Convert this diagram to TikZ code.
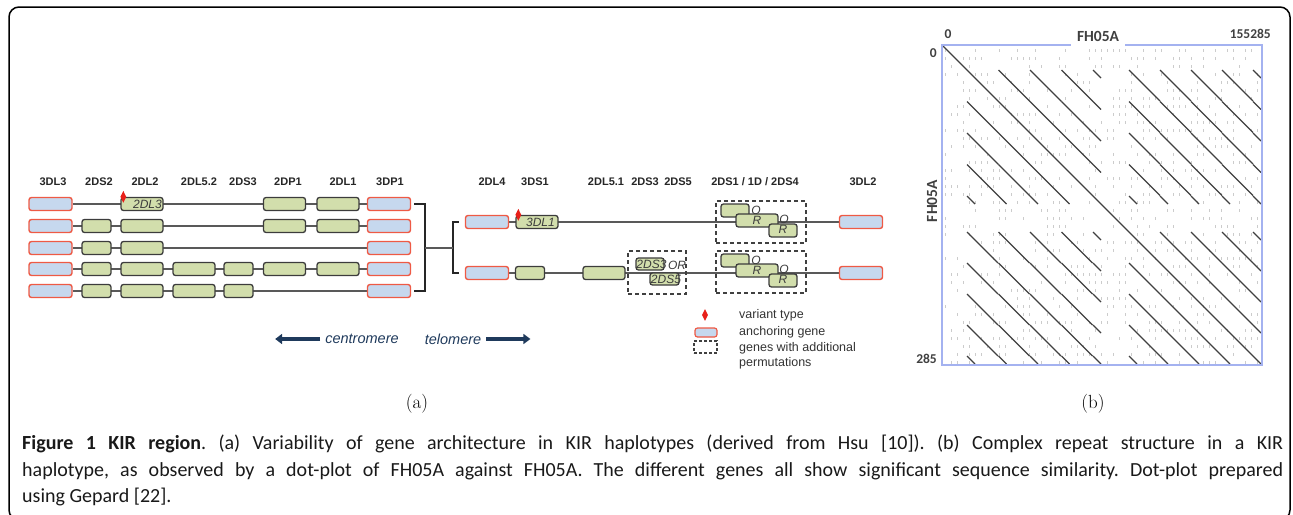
\documentclass[tikz,border=0pt]{standalone}
\usepackage{fontspec}
\usetikzlibrary{shapes.geometric,arrows.meta,backgrounds}
\newfontfamily\arialf{Liberation Sans}
\newfontfamily\calf{Carlito}
\definecolor{anchfill}{HTML}{C6D8EE}
\definecolor{anchdraw}{HTML}{EE5A45}
\definecolor{genefill}{HTML}{D2DEAC}
\definecolor{genedraw}{HTML}{3C3C3C}
\definecolor{navy}{HTML}{1F3A5C}
\definecolor{plotblue}{HTML}{A4B2F0}
\definecolor{varred}{HTML}{E8201A}

\tikzset{
  anchbox/.style={draw=anchdraw,fill=anchfill,line width=1.4pt,rounded corners=2.5pt,
    minimum width=43pt,minimum height=13pt,inner sep=0pt},
  gene/.style={draw=genedraw,fill=genefill,line width=1.3pt,rounded corners=2.5pt,
    minimum height=13pt,inner sep=0pt},
  long/.style={gene,minimum width=42pt},
  short/.style={gene,minimum width=29pt},
  genetext/.style={font=\arialf\itshape\fontsize{12}{12}\selectfont,text=genedraw,inner sep=0pt},
  colname/.style={font=\arialf\bfseries\fontsize{11}{11}\selectfont,text=black!85},
  variant/.style={diamond,fill=varred,minimum width=6pt,minimum height=12pt,inner sep=0pt},
  permbox/.style={draw=black!75,line width=1.3pt,dash pattern=on 4pt off 3pt},
  backbone/.style={draw=black!65,line width=1.3pt},
  bracket/.style={draw=black!85,line width=2pt},
  legtext/.style={anchor=west,font=\arialf\fontsize{12.5}{12.5}\selectfont,text=black!80,inner sep=0pt},
  direction/.style={font=\arialf\itshape\fontsize{14.5}{14.5}\selectfont,text=navy,inner sep=0pt},
  dirarrow/.style={draw=navy,line width=4pt,-{Triangle[length=7pt,width=10pt]}},
  plotline/.style={draw=black!75,line width=1.1pt},
  plotlabel/.style={font=\calf\bfseries\fontsize{13.5}{13.5}\selectfont,text=black!75,inner sep=1pt},
  sublabel/.style={font=\fontsize{19}{19}\selectfont}
}

\begin{document}
\begin{tikzpicture}[x=1pt,y=-1pt]
\useasboundingbox (0,0) rectangle (1293,514);
% outer frame
\draw[line width=1.5pt,rounded corners=10pt] (9,7) rectangle (1290,520);

% (a) left haplotypes
\foreach \t/\x [count=\k] in {3DL3/53,2DS2/99,2DL2/145,2DL5.2/199,2DS3/243,2DP1/288,2DL1/343,3DP1/390}
  \node[colname] (hl\k) at (\x,182) {\t};
\foreach \r/\y/\cl in {1/204/{0,2,5,6,7},2/226/{0,1,2,5,6,7},3/248/{0,1,2,7},4/269/{0,1,2,3,4,5,6,7},5/291/{0,1,2,3,4,7}}
  \foreach \c in \cl {
    \ifcase\c\relax
      \node[anchbox] (g\r-\c) at (50.5,\y) {};
    \or \node[short] (g\r-\c) at (96.5,\y) {};
    \or \node[long] (g\r-\c) at (142,\y) {};
    \or \node[long] (g\r-\c) at (194,\y) {};
    \or \node[short] (g\r-\c) at (238.5,\y) {};
    \or \node[long] (g\r-\c) at (284.5,\y) {};
    \or \node[long] (g\r-\c) at (338,\y) {};
    \or \node[anchbox] (g\r-\c) at (389,\y) {};
    \fi
  };
\node[genetext] (t2dl3) at ([xshift=5.5pt]g1-2) {2DL3};
\node[variant] (v1) at ([xshift=3pt]g1-2.north west) {};

% (a) right haplotypes
\foreach \t/\x [count=\k] in {2DL4/492,3DS1/535,2DL5.1/606,2DS3/645,2DS5/678,3DL2/863}
  \node[colname] (hr\k) at (\x,182) {\t};
\node[colname] (hr7) at (755,182) {2DS1 / 1D / 2DS4};
\node[anchbox] (tA-0) at (487,222) {};
\node[long] (tA-1) at (537,222) {};
\node[genetext] (t3dl1) at ([xshift=3.5pt]tA-1) {3DL1};
\node[variant] (v2) at ([xshift=3pt]tA-1.north west) {};
\node[anchbox] (tA-9) at (861,222) {};
\node[anchbox] (tB-0) at (487,273) {};
\node[short] (tB-1) at (530,273) {};
\node[long] (tB-2) at (604,273) {};
\node[anchbox] (tB-9) at (861,273) {};
% optional 2DS3 / 2DS5
\node[permbox,minimum width=58pt,minimum height=43pt] (pB1) at (657,272.5) {};
\node[gene,minimum width=28pt,minimum height=12pt] (o2ds3) at (650,264) {};
\node[genetext] at ([xshift=1.5pt]o2ds3) {2DS3};
\node[genetext] (or1) at (677,265) {OR};
\node[gene,minimum width=29pt,minimum height=12pt] (o2ds5) at (664.5,279) {};
\node[genetext] at ([xshift=1.5pt]o2ds5) {2DS5};
% 2DS1 / 1D / 2DS4 permutations
\foreach \rw/\dy in {A/0,B/50}{
  \node[permbox,minimum width=90pt,minimum height=42pt] (p\rw) at (761,222+\dy) {};
  \node[gene,minimum width=28pt] (p\rw-1) at (735,210.5+\dy) {};
  \node[genetext] (p\rw-o1) at (756,210+\dy) {O};
  \node[gene,minimum width=42pt] (p\rw-2) at (757,220.5+\dy) {};
  \node[genetext] at (p\rw-2) {R};
  \node[genetext] (p\rw-o2) at (784,219+\dy) {O};
  \node[gene,minimum width=28pt] (p\rw-3) at (783,230.5+\dy) {};
  \node[genetext] at ([yshift=1pt]p\rw-3) {R};
}

% backbones and brackets
\begin{scope}[on background layer]
  \foreach \r in {1,...,5}
    \draw[backbone] (g\r-0) -- (g\r-7);
  \draw[backbone] (tA-0) -- (tA-9);
  \draw[backbone] (tB-0) -- (tB-9);
\end{scope}
\coordinate (brl) at (425,248);
\coordinate (brr) at (453,248);
\draw[bracket] ([xshift=3pt]g1-7.east) -| (brl) |- ([xshift=3pt]g5-7.east);
\draw[bracket] ([xshift=-6pt]tA-0.west) -| (brr) |- ([xshift=-6pt]tB-0.west);
\draw[backbone] (brl) -- (brr);

% direction
\node[direction] (cen) at (362,339) {centromere};
\node[direction] (tel) at (453,339) {telomere};
\draw[dirarrow] ([xshift=-5pt]cen.west) -- ++(-45,0);
\draw[dirarrow] ([xshift=5pt]tel.east) -- ++(44,0);

% legend
\node[variant] (lv) at (705,315) {};
\node[anchbox,minimum width=22pt,minimum height=9pt,line width=1.2pt] (la) at (706,332.5) {};
\node[permbox,minimum width=23pt,minimum height=12pt,line width=1.1pt,dash pattern=on 3pt off 2pt] (lp) at (705.5,347) {};
\node[legtext] (l1) at (739,315) {variant type};
\node[legtext] (l2) at (739,332) {anchoring gene};
\node[legtext] (l3) at (739,348) {genes with additional};
\node[legtext] (l4) at (739,363) {permutations};
\node[sublabel] (suba) at (417,404) {(a)};

% (b) dot plot
\begin{scope}[shift={(942,45)}]
  \pgfmathsetseed{11}
  \foreach \i in {0,...,52}
    \foreach \j in {0,...,39} {
      \pgfmathsetmacro\q{rnd}
      \ifdim\q pt>0.62pt \fill[black!20] (3+6*\i,4+8*\j) rectangle ++(1.2,3); \fi
    }
  \draw[plotline] (0,0) -- (320,320);
  \foreach \a/\la in {25/31.5,56.5/31.5,88/31.5,119.5/31.5,151/8,187/31,218/31,249/31,280/31,311/8}
    \foreach \b/\lb in {25/31.5,56.5/31.5,88/31.5,119.5/31.5,151/8,187/31,218/31,249/31,280/31,311/8} {
      \pgfmathsetmacro\len{min(\la,\lb)}
      \ifdim\a pt=\b pt\else \draw[plotline] (\a,\b) -- ++(\len,\len); \fi
    }
  \draw[draw=plotblue,line width=1.4pt] (0,0) rectangle (320,320);
\end{scope}
\node[plotlabel] (x0) at (948,34) {0};
\node[plotlabel,fill=white,font=\calf\bfseries\fontsize{15.5}{15.5}\selectfont,inner xsep=6pt,inner ysep=5pt] (xname) at (1098,36) {FH05A};
\node[plotlabel,anchor=east] (xmax) at (1272,34) {155285};
\node[plotlabel,anchor=east] (y0) at (938,53) {0};
\node[plotlabel,anchor=east] (ymax) at (938,359) {285};
\node[plotlabel,rotate=90,font=\calf\bfseries\fontsize{15.5}{15.5}\selectfont] (yname) at (932,201) {FH05A};
\node[sublabel] (subb) at (1093,404) {(b)};

% caption
\node[anchor=north west,inner sep=0pt,text width=1261pt,align=justify,text=black!90,
  font=\calf\fontsize{20}{26.5}\selectfont] (cap) at (22,435)
  {\frenchspacing\hyphenpenalty=10000 \textbf{Figure 1 KIR region}. (a) Variability of gene architecture in KIR haplotypes (derived from Hsu [10]). (b) Complex repeat structure in a KIR\linebreak haplotype, as observed by a dot-plot of FH05A against FH05A. The different genes all show significant sequence similarity. Dot-plot prepared\linebreak using Gepard [22].};
\end{tikzpicture}
\end{document}
